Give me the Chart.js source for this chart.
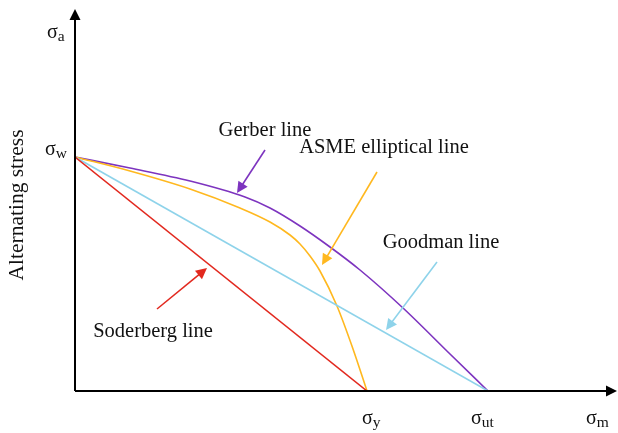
<!DOCTYPE html>
<html>
<head>
<meta charset="utf-8">
<script src="https://cdn.jsdelivr.net/npm/chart.js@4.4.1/dist/chart.umd.min.js"></script>
<style>
  html, body { margin: 0; padding: 0; background: #ffffff; }
  #wrap { width: 618px; height: 433px; position: relative; }
</style>
</head>
<body>
<div id="wrap"><canvas id="c" width="618" height="433"></canvas></div>
<script>
// ---- data (schematic units) ----
const sigmaW = 234;    // fully reversed endurance limit on σa axis
const sigmaY = 292;    // yield strength on σm axis
const sigmaUt = 413;   // ultimate strength on σm axis

const gerberX = [0, 55, 115, 170, 195, 225, 255, 285, 328, 375, 413];
const gerberY = [234, 223, 210, 194, 183, 165, 144, 121, 83, 37, 0];

const asmeX = [0, 55, 115, 165, 195, 215, 225, 235, 245, 262, 278, 292];
const asmeY = [234, 220, 202, 183, 169, 156, 147, 135, 120, 85, 42, 0];

const goodmanX = [0, sigmaUt];
const goodmanY = [sigmaW, 0];

const soderbergX = [0, sigmaY];
const soderbergY = [sigmaW, 0];

const seriesNames = ['Gerber line', 'ASME elliptical line', 'Goodman line', 'Soderberg line'];
const axisTitleY = 'Alternating stress';
const xTickLabels = [['σ', 'y', sigmaY], ['σ', 'ut', sigmaUt]];
const yTickLabels = [['σ', 'w', sigmaW]];

// ---- helpers ----
const pts = (xs, ys) => xs.map((x, i) => ({ x: x, y: ys[i] }));
const COLORS = ['#7d34bf', '#ffb81f', '#8ed3ea', '#e2291f'];
const FONT = '"Liberation Serif", "DejaVu Serif", serif';

// annotation arrows: label centre, arrow tail and arrow tip (data units)
const notes = [
  { name: 0, text: [190, 260], from: [190, 241], to: [162, 198] },
  { name: 1, text: [309, 243], from: [302, 219], to: [247, 126] },
  { name: 2, text: [366, 148], from: [362, 129], to: [311, 61] },
  { name: 3, text: [78, 59],  from: [82, 82],   to: [132, 123] }
];

function arrowHead(ctx, x0, y0, x1, y1, len, half) {
  const a = Math.atan2(y1 - y0, x1 - x0);
  ctx.beginPath();
  ctx.moveTo(x1, y1);
  ctx.lineTo(x1 - len * Math.cos(a) + half * Math.sin(a), y1 - len * Math.sin(a) - half * Math.cos(a));
  ctx.lineTo(x1 - len * Math.cos(a) - half * Math.sin(a), y1 - len * Math.sin(a) + half * Math.cos(a));
  ctx.closePath();
  ctx.fill();
}

function sigmaLabel(ctx, left, baseline, sub) {
  ctx.textAlign = 'left';
  ctx.textBaseline = 'alphabetic';
  ctx.font = '20px ' + FONT;
  ctx.fillText('σ', left, baseline);
  const w = ctx.measureText('σ').width;
  ctx.font = '15.5px ' + FONT;
  ctx.fillText(sub, left + w, baseline + 3);
}

const decor = {
  id: 'decor',
  afterDatasetsDraw(chart) {
    const ctx = chart.ctx;
    const xs = chart.scales.x, ys = chart.scales.y;
    const X = v => xs.getPixelForValue(v);
    const Y = v => ys.getPixelForValue(v);
    const ox = X(0), oy = Y(0);
    ctx.save();
    // axes
    ctx.strokeStyle = '#000';
    ctx.fillStyle = '#000';
    ctx.lineWidth = 2;
    ctx.beginPath();
    ctx.moveTo(ox, oy);
    ctx.lineTo(ox, chart.chartArea.top + 8);
    ctx.moveTo(ox, oy);
    ctx.lineTo(chart.chartArea.right - 8, oy);
    ctx.stroke();
    arrowHead(ctx, ox, oy, ox, chart.chartArea.top, 11, 5.5);
    arrowHead(ctx, ox, oy, chart.chartArea.right - 1, oy, 11, 5.5);

    // axis symbols
    ctx.fillStyle = '#111';
    sigmaLabel(ctx, ox - 28, 38, 'a');
    yTickLabels.forEach(t => sigmaLabel(ctx, ox - 30, Y(t[2]) - 2, t[1]));
    xTickLabels.forEach(t => {
      const off = t[1].length > 1 ? 17 : 5;
      sigmaLabel(ctx, X(t[2]) - off, oy + 33, t[1]);
    });
    sigmaLabel(ctx, chart.chartArea.right - 32, oy + 33, 'm');

    // y-axis title
    ctx.save();
    ctx.translate(17, 205);
    ctx.rotate(-Math.PI / 2);
    ctx.font = '21.5px ' + FONT;
    ctx.textAlign = 'center';
    ctx.textBaseline = 'middle';
    ctx.fillText(axisTitleY, 0, 0);
    ctx.restore();

    // annotations
    notes.forEach(n => {
      const c = COLORS[n.name];
      ctx.fillStyle = '#111';
      ctx.font = '20.5px ' + FONT;
      ctx.textAlign = 'center';
      ctx.textBaseline = 'middle';
      ctx.fillText(seriesNames[n.name], X(n.text[0]), Y(n.text[1]));
      const x0 = X(n.from[0]), y0 = Y(n.from[1]), x1 = X(n.to[0]), y1 = Y(n.to[1]);
      ctx.strokeStyle = c;
      ctx.fillStyle = c;
      ctx.lineWidth = 1.6;
      ctx.beginPath();
      ctx.moveTo(x0, y0);
      const a = Math.atan2(y1 - y0, x1 - x0);
      ctx.lineTo(x1 - 8 * Math.cos(a), y1 - 8 * Math.sin(a));
      ctx.stroke();
      arrowHead(ctx, x0, y0, x1, y1, 11, 5.5);
    });
    ctx.restore();
  }
};

const ds = (i, data, smooth) => ({
  label: seriesNames[i],
  data: data,
  showLine: true,
  borderColor: COLORS[i],
  backgroundColor: COLORS[i],
  borderWidth: 1.6,
  pointRadius: 0,
  tension: smooth ? 0.4 : 0,
  cubicInterpolationMode: smooth ? 'monotone' : 'default',
  fill: false
});

new Chart(document.getElementById('c'), {
  type: 'scatter',
  data: {
    datasets: [
      ds(3, pts(soderbergX, soderbergY), false),
      ds(2, pts(goodmanX, goodmanY), false),
      ds(1, pts(asmeX, asmeY), true),
      ds(0, pts(gerberX, gerberY), true)
    ]
  },
  options: {
    responsive: false,
    animation: false,
    events: [],
    layout: { padding: { left: 75, right: 0, top: 9, bottom: 42 } },
    plugins: { legend: { display: false }, tooltip: { enabled: false } },
    scales: {
      x: { type: 'linear', display: false, min: 0, max: 543 },
      y: { type: 'linear', display: false, min: 0, max: 382 }
    }
  },
  plugins: [decor]
});
</script>
</body>
</html>
